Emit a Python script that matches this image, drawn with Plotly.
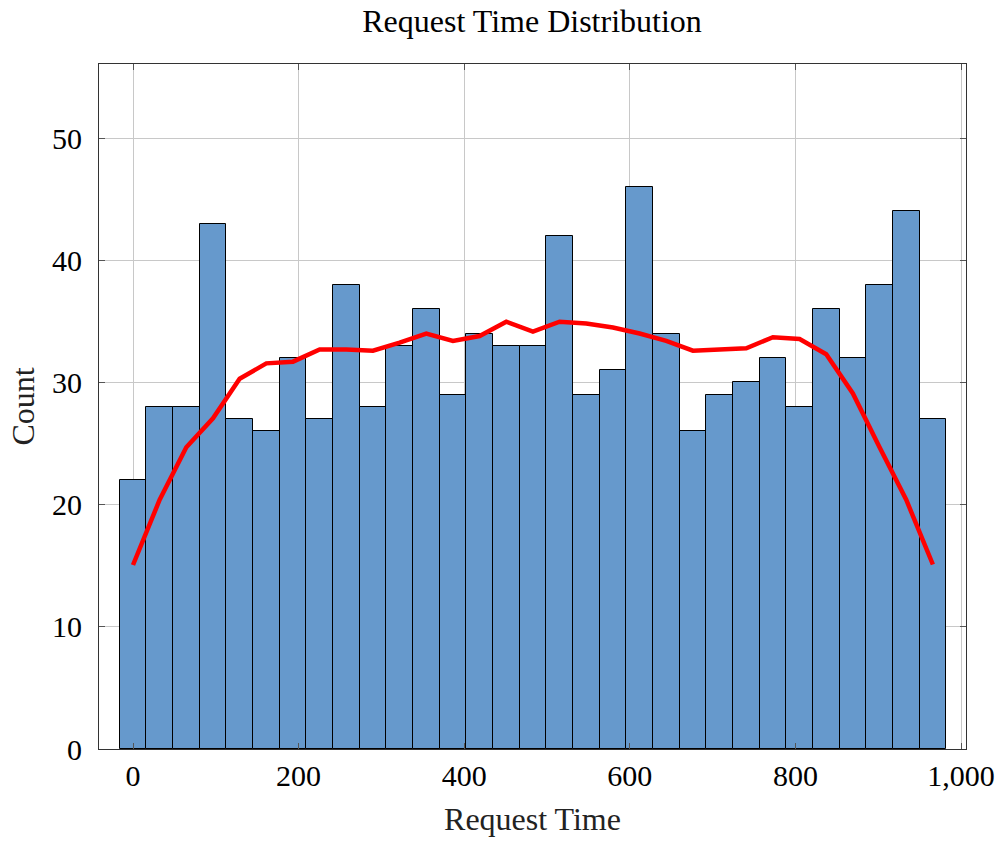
import plotly.graph_objects as go

# Histogram data (bin centers and counts)
bin_width = 32.2
bin_centers = [i * 32.2 for i in range(31)]
counts = [22, 28, 28, 43, 27, 26, 32, 27, 38, 28,
          33, 36, 29, 34, 33, 33, 42, 29, 31, 46,
          34, 26, 29, 30, 32, 28, 36, 32, 38, 44, 27]
# Smoothed density curve (scaled to counts), evaluated at bin centers
curve = [15.06, 20.4, 24.7, 27.06, 30.3, 31.56, 31.7, 32.7, 32.7, 32.6,
         33.25, 34.0, 33.4, 33.8, 34.97, 34.15, 34.97, 34.83, 34.5, 34.0,
         33.4, 32.6, 32.7, 32.8, 33.7, 33.55, 32.3, 29.1, 24.7, 20.4, 15.1]
x_ticks = [0, 200, 400, 600, 800, 1000]
y_ticks = [0, 10, 20, 30, 40, 50]

FONT = "Liberation Serif"

fig = go.Figure()
fig.add_trace(go.Bar(
    x=bin_centers, y=counts, width=bin_width,
    marker=dict(color="#6699CC", line=dict(color="black", width=1)),
    showlegend=False,
))
fig.add_trace(go.Scatter(
    x=bin_centers, y=curve, mode="lines",
    line=dict(color="#FF0000", width=4.5),
    showlegend=False,
))

axis_common = dict(
    showline=True, linecolor="#333333", linewidth=1, mirror="allticks",
    ticks="inside", ticklen=6, tickcolor="#555555",
    showgrid=True, gridcolor="#c8c8c8", gridwidth=1,
    zeroline=False, automargin=False,
    tickfont=dict(family=FONT, size=30, color="black"),
)

fig.update_layout(
    width=1000, height=841,
    margin=dict(l=99, r=34, t=64, b=92),
    paper_bgcolor="white", plot_bgcolor="white",
    bargap=0,
    title=dict(text="Request Time Distribution", x=0.532, xanchor="center",
               y=0.975, yanchor="middle",
               font=dict(family=FONT, size=32, color="black")),
    xaxis=dict(range=[-41.06, 1006], tickvals=x_ticks, tickformat=",d",
               ticklabelstandoff=0,
               title=dict(text="Request Time", standoff=16,
                          font=dict(family=FONT, size=32, color="#222222")),
               **axis_common),
    yaxis=dict(range=[0, 56.06], tickvals=y_ticks,
               title=dict(text="Count", standoff=7,
                          font=dict(family=FONT, size=32, color="#222222")),
               ticklabelstandoff=10,
               **axis_common),
)

fig.write_html("out.html")
